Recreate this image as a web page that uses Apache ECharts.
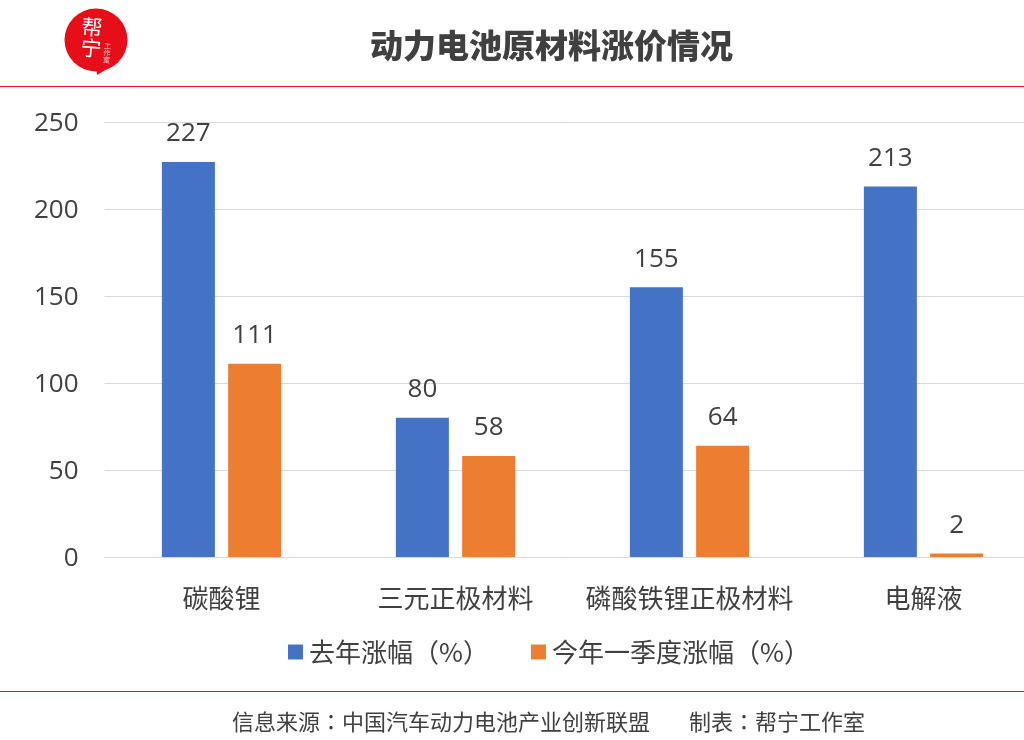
<!DOCTYPE html>
<html>
<head>
    <meta charset="UTF-8">
    <title>动力电池原材料涨价情况</title>
    <style>
        html, body { margin: 0; padding: 0; background: #fff; }
        #main { width: 1024px; height: 740px; }
    </style>
</head>
<body>
<div id="main"></div>
<script src="https://cdn.jsdelivr.net/npm/echarts@6/dist/echarts.min.js"></script>
<script>
    var categories = ['碳酸锂', '三元正极材料', '磷酸铁锂正极材料', '电解液'];
    var lastYear = [227, 80, 155, 213];
    var firstQuarter = [111, 58, 64, 2];
    var seriesNames = ['去年涨幅（%）', '今年一季度涨幅（%）'];
    var yTicks = [0, 50, 100, 150, 200, 250];

    var font = '"Noto Sans CJK SC", sans-serif';
    var fontTC = '"Noto Sans CJK TC", sans-serif';
    var numFont = '"Open Sans", sans-serif';
    var textColor = '#404040';
    var chart = echarts.init(document.getElementById('main'));

    // 数据标签两个系列一样
    var barLabel = { show: true, position: 'top', distance: 15, fontSize: 26, color: textColor, fontFamily: numFont };
    // 原图冒号是居中的，TC字体才是这样
    var colonRich = { c: { fontFamily: fontTC, fontSize: 22, fill: textColor } };

    chart.setOption({
        animation: false,
        textStyle: { fontFamily: font },
        title: {
            text: '动力电池原材料涨价情况',
            left: 365, top: 24,
            textStyle: { fontSize: 33, fontWeight: 900, color: textColor, fontFamily: font }
        },
        legend: {
            data: seriesNames,
            left: 283, top: 634,
            itemWidth: 15, itemHeight: 15, itemGap: 42,
            icon: 'rect',
            // 括号也要居中
            textStyle: { fontSize: 26, color: textColor, fontFamily: fontTC, padding: [0, 0, 0, 1] }
        },
        // 右边故意超出画布，最后一格要和原图对齐
        grid: { left: 104.5, width: 936, top: 122, bottom: 183, outerBoundsMode: 'none' },
        xAxis: {
            type: 'category',
            data: categories,
            axisTick: { show: false },
            axisLine: { lineStyle: { color: '#d9d9d9' } },
            axisLabel: { fontSize: 26, color: textColor, margin: 28, interval: 0 }
        },
        yAxis: {
            type: 'value',
            min: yTicks[0], max: yTicks[yTicks.length - 1], interval: 50,
            axisLine: { show: false },
            axisTick: { show: false },
            splitLine: { lineStyle: { color: '#d9d9d9' } },
            axisLabel: { fontSize: 26, color: textColor, margin: 26, verticalAlign: 'top', lineHeight: 4, fontFamily: numFont }
        },
        series: [
            {
                name: seriesNames[0], type: 'bar', data: lastYear,
                barWidth: 53, barGap: '25%',
                itemStyle: { color: '#4472c4' },
                label: barLabel
            },
            {
                name: seriesNames[1], type: 'bar', data: firstQuarter,
                barWidth: 53,
                itemStyle: { color: '#ed7d31' },
                label: barLabel
            }
        ],
        graphic: [
            { type: 'rect', shape: { x: 0, y: 86, width: 1024, height: 1 }, style: { fill: '#d8182a' } },
            { type: 'rect', shape: { x: 0, y: 691, width: 1024, height: 1 }, style: { fill: '#8a3a3a' } },
            // 角标
            { type: 'circle', shape: { cx: 96, cy: 40, r: 31.5 }, style: { fill: '#e60f19' } },
            { type: 'polygon', shape: { points: [[96, 66], [112, 66], [97, 75]] }, style: { fill: '#e60f19' } },
            { type: 'text', rotation: -0.08, x: 92, y: 27, style: { text: '帮', fill: '#fff', font: '21px ' + font, textAlign: 'center', textVerticalAlign: 'middle' } },
            { type: 'text', rotation: -0.08, x: 91, y: 48, style: { text: '宁', fill: '#fff', font: '21px ' + font, textAlign: 'center', textVerticalAlign: 'middle' } },
            { type: 'text', rotation: -0.08, x: 107, y: 53, style: { text: '工\n作\n室', fill: '#fbd5d5', font: '7px ' + font, textAlign: 'center', textVerticalAlign: 'middle' } },
            // 底部来源
            { type: 'text', style: { x: 232, y: 722, text: '信息来源{c|：}中国汽车动力电池产业创新联盟', rich: colonRich, fill: textColor, font: '22px ' + font, textAlign: 'left', textVerticalAlign: 'middle' } },
            { type: 'text', style: { x: 689, y: 722, text: '制表{c|：}帮宁工作室', rich: colonRich, fill: textColor, font: '22px ' + font, textAlign: 'left', textVerticalAlign: 'middle' } }
        ]
    });
</script>
</body>
</html>
